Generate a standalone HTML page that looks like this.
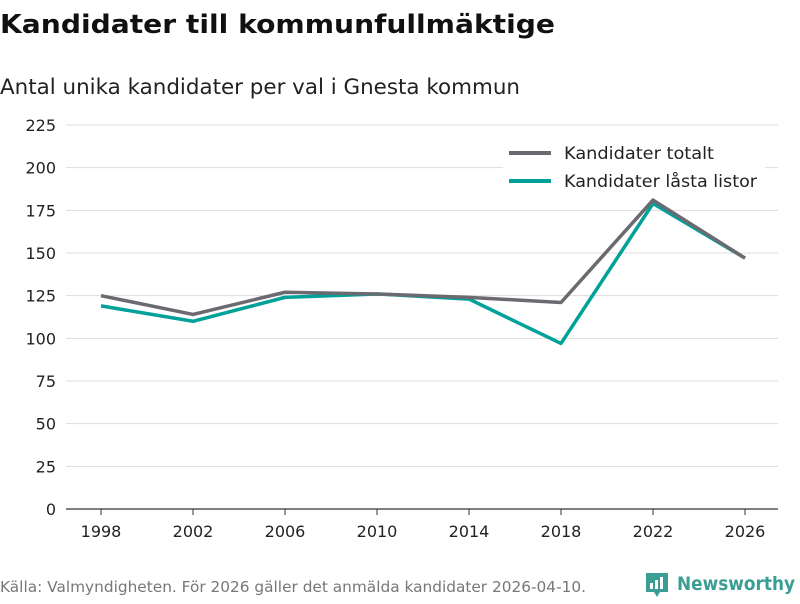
<!DOCTYPE html>
<html><head><meta charset="utf-8"><style>
body{margin:0;background:#fff;font-family:"DejaVu Sans","Liberation Sans",sans-serif;}
</style></head><body>
<svg width="800" height="600" viewBox="0 0 800 600" xmlns="http://www.w3.org/2000/svg" font-family="DejaVu Sans, Liberation Sans, sans-serif">
<text x="0" y="33" font-size="26" font-weight="bold" fill="#111" textLength="555" lengthAdjust="spacingAndGlyphs">Kandidater till kommunfullmäktige</text>
<text x="0" y="94" font-size="21" fill="#222" textLength="520" lengthAdjust="spacingAndGlyphs">Antal unika kandidater per val i Gnesta kommun</text>
<g id="grid"></g>
<g id="yticks"></g>
<g id="xticks"></g>
<g id="lines"></g>
<g>
<rect x="503" y="140" width="262" height="58" fill="#fff"/>
<line x1="509" y1="153" x2="551" y2="153" stroke="#6b6a70" stroke-width="4"/>
<text x="564" y="159" font-size="17" fill="#222" textLength="150" lengthAdjust="spacingAndGlyphs">Kandidater totalt</text>
<line x1="509" y1="181" x2="551" y2="181" stroke="#00a198" stroke-width="4"/>
<text x="564" y="187" font-size="17" fill="#222" textLength="193" lengthAdjust="spacingAndGlyphs">Kandidater låsta listor</text>
</g>
<text x="0" y="592" font-size="15" fill="#777" textLength="586" lengthAdjust="spacingAndGlyphs">Källa: Valmyndigheten. För 2026 gäller det anmälda kandidater 2026-04-10.</text>
<g>
<path d="M646 573 h22 v19 h-8 l-3 5 l-3 -5 h-8 z" fill="#3a9e95"/>
<rect x="650" y="583" width="3" height="6" fill="#fff"/><rect x="655" y="580" width="3" height="9" fill="#fff"/><rect x="660" y="577" width="3" height="12" fill="#fff"/>
<text x="677" y="590" font-size="19" font-weight="bold" fill="#3a9e95" textLength="118" lengthAdjust="spacingAndGlyphs">Newsworthy</text>
</g>
<script>
var years=[1998,2002,2006,2010,2014,2018,2022,2026];
var totalt=[125,114,127,126,124,121,181,147];
var lasta=[119,110,124,126,123,97,179,147];
var yTicks=[0,25,50,75,100,125,150,175,200,225];
var NS="http://www.w3.org/2000/svg";
function X(y){return 101+(y-1998)*(644/28);}
function Y(v){return 509-v*(384/225);}
function mk(t,a,p){var e=document.createElementNS(NS,t);for(var k in a)e.setAttribute(k,a[k]);p.appendChild(e);return e;}
var g=document.getElementById('grid'),yt=document.getElementById('yticks'),xt=document.getElementById('xticks'),ln=document.getElementById('lines');
yTicks.forEach(function(v){
  var l=mk('line',{x1:66,x2:778,y1:Y(v),y2:Y(v),stroke:v===0?'#333':'#ddd','stroke-width':v===0?1.2:1},g);
  
  
  var t=mk('text',{x:56,y:Y(v)+6,'font-size':16,fill:'#222','text-anchor':'end'},yt);t.textContent=v;
  
  
});
years.forEach(function(y){
  mk('line',{x1:X(y),x2:X(y),y1:509,y2:515,stroke:'#333'},xt);
  var t=mk('text',{x:X(y),y:537,'font-size':16,fill:'#222','text-anchor':'middle'},xt);t.textContent=y;
  
  
});
function line(vals,col,name){
  var d=vals.map(function(v,i){return (i?'L':'M')+X(years[i])+' '+Y(v);}).join(' ');
  var p=mk('path',{d:d,fill:'none',stroke:col,'stroke-width':3.5,'stroke-linejoin':'round'},ln);
  
  
}
line(lasta,'#00a198','line-lasta-listor');
line(totalt,'#6b6a70','line-totalt');
</script>
</svg>
</body></html>
